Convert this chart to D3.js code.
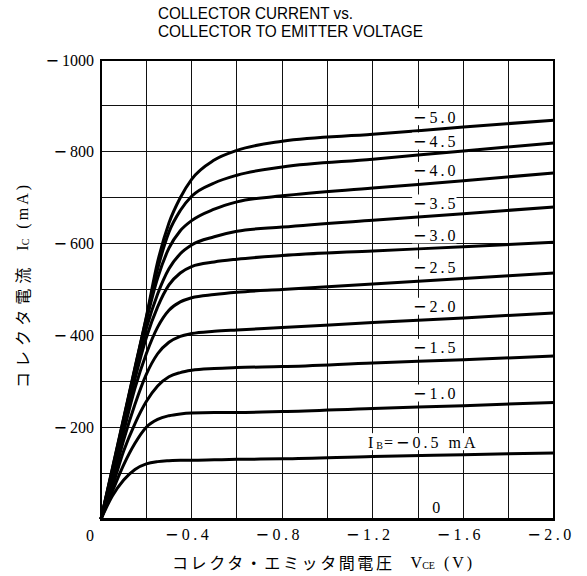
<!DOCTYPE html>
<html lang="ja">
<head>
<meta charset="UTF-8" />
<title>Collector current vs. collector to emitter voltage</title>
<script src="https://d3js.org/d3.v7.min.js"></script>
<style>
  body { margin: 0; background: #fff; }
  svg { display: block; }
  .serif { font-family: "Liberation Serif", "DejaVu Serif", serif; fill: #000; }
  .minus { font-family: "DejaVu Sans", sans-serif; }
  .jp { font-family: "Noto Sans CJK JP", sans-serif; fill: #000; }
  .title { font-family: "Liberation Sans", Arial, sans-serif; font-size: 17px; fill: #000; }
</style>
</head>
<body>
<svg></svg>
<script>
// V_CE readings (magnitude, V) and I_C readings (magnitude, mA) per base current
const vce  = [0, 0.05, 0.1, 0.15, 0.2, 0.25, 0.3, 0.35, 0.4, 0.5, 0.6, 0.8, 1.2, 1.6, 2.0];
const ic05 = [0, 50, 85, 108, 120, 125, 127, 128, 128, 129, 130, 131, 136, 140, 144];
const ic10 = [0, 60, 118, 165, 200, 217, 225, 229, 231, 232, 232, 234, 241, 247, 254];
const ic15 = [0, 70, 148, 208, 256, 290, 310, 319, 324, 328, 330, 332, 340, 347, 355];
const ic20 = [0, 80, 172, 250, 315, 360, 385, 398, 404, 409, 412, 417, 428, 438, 449];
const ic25 = [0, 90, 190, 285, 360, 418, 455, 473, 482, 489, 494, 500, 512, 524, 536];
const ic30 = [0, 95, 200, 305, 395, 462, 510, 536, 550, 560, 566, 574, 584, 593, 603];
const ic35 = [0, 100, 210, 318, 415, 490, 545, 578, 597, 615, 627, 636, 651, 665, 680];
const ic40 = [0, 105, 215, 325, 432, 525, 590, 628, 650, 675, 691, 704, 721, 737, 754];
const ic45 = [0, 108, 218, 328, 438, 545, 625, 672, 703, 732, 749, 767, 784, 802, 819];
const ic50 = [0, 110, 220, 330, 440, 560, 645, 700, 740, 782, 803, 823, 838, 854, 869];

const ibLabels = ["−0.5", "−1.0", "−1.5", "−2.0", "−2.5", "−3.0", "−3.5", "−4.0", "−4.5", "−5.0"];
const xTickValues = [0.4, 0.8, 1.2, 1.6, 2.0];
const yTickValues = [200, 400, 600, 800, 1000];
const labelV = 1.4;   // curve labels sit on the -1.4 V grid line

const series = [ic05, ic10, ic15, ic20, ic25, ic30, ic35, ic40, ic45, ic50]
  .map((ic, i) => ({ label: ibLabels[i], points: vce.map((v, j) => [v, ic[j]]) }));

const width = 587, height = 576;
const svg = d3.select("svg").attr("width", width).attr("height", height);

const x = d3.scaleLinear().domain([0, 2.0]).range([101, 554]);
const y = d3.scaleLinear().domain([0, 1000]).range([519, 60]);

// writes a string into a text element, giving the minus sign a wider glyph
function withMinus(t, str) {
  t.text(null);
  str.split(/(−)/).filter(s => s.length).forEach(s => {
    const sp = t.append("tspan").text(s);
    if (s === "−") sp.attr("class", "minus");
  });
}

// grid
const grid = svg.append("g").attr("stroke", "#111").attr("stroke-width", 1)
  .attr("shape-rendering", "crispEdges");
grid.selectAll(".vx").data(x.ticks(10)).enter().append("line")
  .attr("x1", d => x(d)).attr("x2", d => x(d))
  .attr("y1", y(0)).attr("y2", y(1000));
grid.selectAll(".hy").data(y.ticks(10)).enter().append("line")
  .attr("x1", x(0)).attr("x2", x(2))
  .attr("y1", d => y(d)).attr("y2", d => y(d));

// curves
const line = d3.line().x(d => x(d[0])).y(d => y(d[1])).curve(d3.curveMonotoneX);
svg.append("g").selectAll("path").data(series).enter().append("path")
  .attr("d", d => line(d.points))
  .attr("fill", "none").attr("stroke", "#000").attr("stroke-width", 3)
  .attr("stroke-linejoin", "round");

// frame
svg.append("rect")
  .attr("x", x(0)).attr("y", y(1000))
  .attr("width", x(2) - x(0)).attr("height", y(0) - y(1000))
  .attr("fill", "none").attr("stroke", "#000").attr("stroke-width", 2);
svg.append("line")
  .attr("x1", x(0) - 1).attr("x2", x(2) + 1).attr("y1", y(0) + 0.5).attr("y2", y(0) + 0.5)
  .attr("stroke", "#000").attr("stroke-width", 3);

// curve labels with white background
function interp(points, v) {
  const i = d3.bisector(d => d[0]).left(points, v);
  const a = points[i - 1], b = points[i];
  return a[1] + (b[1] - a[1]) * (v - a[0]) / (b[0] - a[0]);
}
const labels = svg.append("g");
series.forEach((s, i) => {
  const cy = y(interp(s.points, labelV)) - 14;
  const g = labels.append("g");
  const t = g.append("text").attr("class", "serif")
    .attr("font-size", 16).attr("letter-spacing", 3)
    .attr("dominant-baseline", "central")
    .attr("y", cy);
  if (i === 0) {
    t.attr("x", 368);
    t.append("tspan").text("I");
    t.append("tspan").attr("font-size", 10).attr("dy", 3).attr("letter-spacing", 1).text("B");
    t.append("tspan").attr("dy", -3).text("=");
    t.append("tspan").attr("class", "minus").text("−");
    t.append("tspan").text("0.5 mA");
  } else {
    t.attr("x", x(labelV) - 5);
    withMinus(t, s.label);
  }
  const bb = t.node().getBBox();
  g.insert("rect", "text")
    .attr("x", bb.x - 1).attr("y", bb.y + 1)
    .attr("width", bb.width - 1).attr("height", bb.height - 2)
    .attr("fill", "#fff");
});
// I_B = 0 curve lies on the axis
const z = labels.append("g");
const zt = z.append("text").attr("class", "serif").attr("font-size", 16)
  .attr("text-anchor", "middle").attr("dominant-baseline", "central")
  .attr("x", x(1.48)).attr("y", y(24)).text("0");
const zb = zt.node().getBBox();
z.insert("rect", "text").attr("x", zb.x - 2).attr("y", zb.y).attr("width", zb.width + 4)
  .attr("height", zb.height).attr("fill", "#fff");

// axes
const yAxis = svg.append("g").attr("transform", `translate(${x(0)},0)`)
  .call(d3.axisLeft(y).tickValues(yTickValues).tickSize(0).tickPadding(7)
    .tickFormat(d => "−" + d));
yAxis.select(".domain").remove();
yAxis.selectAll("text").attr("class", "serif").attr("font-size", 16).attr("fill", "#000")
  .attr("font-family", null)
  .each(function (d) {
    const t = d3.select(this);
    t.text(null);
    t.append("tspan").attr("class", "minus").text("−");
    t.append("tspan").attr("dx", 3).text(d);
  });

const xAxis = svg.append("g").attr("transform", `translate(0,${y(0)})`)
  .call(d3.axisBottom(x).tickValues(xTickValues).tickSize(0).tickPadding(10)
    .tickFormat(d => "−" + d.toFixed(1)));
xAxis.select(".domain").remove();
xAxis.selectAll("text").attr("class", "serif").attr("font-size", 16).attr("fill", "#000")
  .attr("font-family", null).attr("letter-spacing", 3.5).attr("dx", -3.5)
  .each(function (d) { withMinus(d3.select(this), "−" + d.toFixed(1)); });

svg.append("text").attr("class", "serif").attr("font-size", 16)
  .attr("text-anchor", "middle").attr("dominant-baseline", "central")
  .attr("x", 90).attr("y", 535).text("0");

// axis titles
const xt = svg.append("text").attr("class", "jp").attr("font-size", 16)
  .attr("dominant-baseline", "central").attr("x", 172).attr("y", 562);
xt.append("tspan").attr("letter-spacing", 2.6).text("コレクタ・エミッタ間電圧");
xt.append("tspan").attr("class", "serif").attr("dx", 16).text("V");
xt.append("tspan").attr("class", "serif").attr("font-size", 10).attr("dy", 3).text("CE");
xt.append("tspan").attr("class", "serif").attr("dy", -3).attr("dx", 9).attr("letter-spacing", 3).text("(V)");

const yt = svg.append("text").attr("class", "jp").attr("font-size", 16)
  .attr("dominant-baseline", "central")
  .attr("transform", "translate(22,388) rotate(-90)");
yt.append("tspan").attr("letter-spacing", 5).text("コレクタ電流");
yt.append("tspan").attr("class", "serif").attr("dx", 12).text("I");
yt.append("tspan").attr("class", "serif").attr("font-size", 10).attr("dy", 3).text("C");
yt.append("tspan").attr("class", "serif").attr("dy", -3).attr("dx", 10).attr("letter-spacing", 3).text("(mA)");

// title
svg.append("text").attr("class", "title").attr("x", 158).attr("y", 19)
  .attr("textLength", 195).attr("lengthAdjust", "spacingAndGlyphs")
  .text("COLLECTOR CURRENT vs.");
svg.append("text").attr("class", "title").attr("x", 158).attr("y", 37)
  .attr("textLength", 265).attr("lengthAdjust", "spacingAndGlyphs")
  .text("COLLECTOR TO EMITTER VOLTAGE");
</script>
</body>
</html>
